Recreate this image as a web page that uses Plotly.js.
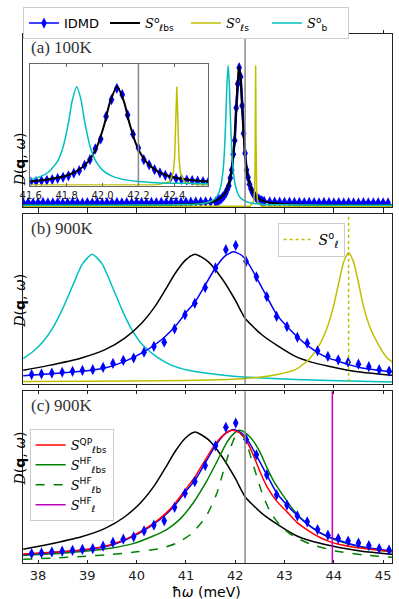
<!DOCTYPE html>
<html lang="en">
<head>
    <meta charset="UTF-8">
    <title>Phonon spectral function D(q, w)</title>
    <script src="https://cdn.plot.ly/plotly-3.0.1.min.js"></script>
    <style>
        body { margin: 0; background: #fff; }
    </style>
</head>
<body>
    <div id="myPlot" style="width:399px;height:599px;"></div>

    <script>
        // ---- panel (a) 100K : normalised spectra, peak = 1 ----
        const aCyanX = [37.7, 38.5, 39.5, 40.5, 41.0, 41.3, 41.5, 41.6, 41.65, 41.7, 41.75, 41.78, 41.81, 41.83, 41.856, 41.88, 41.9, 41.93, 41.96, 42.0, 42.05, 42.1, 42.2, 42.3, 42.45, 42.6, 43.0, 44.0, 45.2];
        const aCyanY = [0.012, 0.012, 0.013, 0.014, 0.017, 0.023, 0.039, 0.062, 0.088, 0.137, 0.248, 0.388, 0.634, 0.849, 1.0, 0.870, 0.655, 0.401, 0.255, 0.156, 0.097, 0.067, 0.041, 0.029, 0.022, 0.018, 0.015, 0.013, 0.012];

        const aBlackX = [37.7, 38.5, 39.5, 40.5, 41.0, 41.3, 41.5, 41.6, 41.7, 41.8, 41.86, 41.92, 41.97, 42.01, 42.04, 42.081, 42.12, 42.15, 42.19, 42.24, 42.3, 42.36, 42.45, 42.6, 42.8, 43.2, 44.0, 45.2];
        const aBlackY = [0.012, 0.013, 0.013, 0.015, 0.019, 0.025, 0.034, 0.044, 0.063, 0.101, 0.149, 0.242, 0.398, 0.618, 0.834, 1.0, 0.848, 0.631, 0.406, 0.246, 0.151, 0.102, 0.066, 0.040, 0.027, 0.018, 0.014, 0.013];

        const aYellowX = [37.7, 41.0, 42.0, 42.3, 42.374, 42.394, 42.402, 42.4065, 42.41, 42.414, 42.418, 42.4215, 42.426, 42.434, 42.454, 42.53, 43.0, 45.2];
        const aYellowY = [0.005, 0.005, 0.005, 0.006, 0.039, 0.128, 0.286, 0.505, 0.783, 1.0, 0.783, 0.505, 0.286, 0.128, 0.039, 0.006, 0.005, 0.005];

        const aIdmdX = [
            37.7, 37.8, 37.9, 38.0, 38.1, 38.2, 38.3, 38.4, 38.5, 38.6, 38.7, 38.8, 38.9, 39.0, 39.1, 39.2, 39.3, 39.4, 39.5, 39.6,
            39.7, 39.8, 39.9, 40.0, 40.1, 40.2, 40.3, 40.4, 40.5, 40.6, 40.7, 40.8, 40.9, 41.0, 41.1, 41.2, 41.3, 41.4, 41.5,
            41.60, 41.63, 41.66, 41.69, 41.72, 41.75, 41.78, 41.81, 41.84, 41.87, 41.90, 41.93, 41.96, 41.99, 42.02, 42.05, 42.08,
            42.11, 42.14, 42.17, 42.20, 42.23, 42.26, 42.29, 42.32, 42.35, 42.38, 42.41, 42.44, 42.47, 42.50, 42.53, 42.56, 42.59,
            42.7, 42.8, 42.9, 43.0, 43.1, 43.2, 43.3, 43.4, 43.5, 43.6, 43.7, 43.8, 43.9, 44.0, 44.1, 44.2, 44.3, 44.4, 44.5, 44.6,
            44.7, 44.8, 44.9, 45.0, 45.1
        ];
        const aIdmdY = [
            0.029, 0.031, 0.028, 0.030, 0.032, 0.029, 0.030, 0.031, 0.028, 0.030, 0.032, 0.030, 0.029, 0.031, 0.030, 0.032, 0.029, 0.031, 0.030, 0.032,
            0.030, 0.031, 0.029, 0.032, 0.031, 0.030, 0.032, 0.031, 0.033, 0.031, 0.032, 0.034, 0.033, 0.035, 0.034, 0.036, 0.035, 0.037, 0.036,
            0.036, 0.040, 0.048, 0.052, 0.060, 0.072, 0.083, 0.098, 0.125, 0.150, 0.205, 0.262, 0.372, 0.470, 0.700, 0.870, 0.985,
            0.920, 0.715, 0.520, 0.380, 0.262, 0.210, 0.160, 0.128, 0.103, 0.085, 0.072, 0.063, 0.055, 0.050, 0.044, 0.040, 0.038,
            0.036, 0.035, 0.034, 0.033, 0.034, 0.032, 0.033, 0.031, 0.032, 0.031, 0.030, 0.032, 0.031, 0.030, 0.031, 0.029, 0.031, 0.030, 0.029, 0.031,
            0.030, 0.029, 0.031, 0.030, 0.029
        ];

        // ---- panels (b) and (c) 900K ----
        const bCyanX = [37.70, 37.9, 38.1, 38.3, 38.5, 38.7, 38.9, 39.1, 39.3, 39.5, 39.7, 39.9, 40.1, 40.4, 40.7, 41.05, 41.4, 41.86, 42.54, 43.22, 43.9, 45.18];
        const bCyanY = [0.195, 0.250, 0.325, 0.432, 0.580, 0.755, 0.925, 1.0, 0.925, 0.755, 0.575, 0.420, 0.310, 0.210, 0.145, 0.105, 0.084, 0.064, 0.046, 0.034, 0.026, 0.015];

        const bBlackX = [37.70, 38.2, 38.88, 39.36, 39.76, 40.10, 40.37, 40.58, 40.78, 40.99, 41.185, 41.455, 41.73, 42.0, 42.2, 42.54, 42.88, 43.22, 43.56, 43.895, 44.23, 44.57, 45.18];
        const bBlackY = [0.105, 0.141, 0.200, 0.264, 0.353, 0.468, 0.596, 0.724, 0.851, 0.954, 1.0, 0.941, 0.813, 0.647, 0.506, 0.379, 0.289, 0.212, 0.166, 0.136, 0.110, 0.090, 0.067];

        const bYellowX = [37.70, 39.0, 40.5, 41.5, 42.2, 42.88, 43.22, 43.49, 43.69, 43.86, 43.995, 44.1, 44.2, 44.3, 44.4, 44.5, 44.6, 44.74, 44.91, 45.08, 45.18];
        const bYellowY = [0.018, 0.020, 0.025, 0.030, 0.041, 0.075, 0.110, 0.187, 0.289, 0.430, 0.600, 0.780, 0.940, 1.012, 0.940, 0.780, 0.600, 0.430, 0.300, 0.200, 0.170];

        // IDMD fit (blue line)
        const fitX = [37.70, 38.2, 38.88, 39.36, 39.76, 40.10, 40.37, 40.58, 40.78, 40.99, 41.19, 41.39, 41.59, 41.79, 41.96, 42.13, 42.27, 42.44, 42.64, 42.845, 43.05, 43.25, 43.49, 43.69, 43.895, 44.1, 44.3, 44.57, 44.91, 45.18];
        const fitY = [0.064, 0.077, 0.097, 0.123, 0.174, 0.238, 0.302, 0.366, 0.442, 0.545, 0.634, 0.762, 0.89, 0.985, 1.018, 0.992, 0.928, 0.813, 0.673, 0.532, 0.442, 0.366, 0.289, 0.238, 0.199, 0.174, 0.149, 0.123, 0.105, 0.092];

        // IDMD points at 900K
        const idmdX = [37.87, 38.07, 38.28, 38.49, 38.70, 38.90, 39.11, 39.32, 39.52, 39.73, 39.94, 40.15, 40.35, 40.56, 40.77, 40.98, 41.18, 41.39, 41.60, 41.81, 42.01, 42.22, 42.43, 42.64, 42.84, 43.05, 43.26, 43.46, 43.67, 43.88, 44.09, 44.29, 44.50, 44.71, 44.92, 45.12];
        const idmdY = [0.072, 0.077, 0.084, 0.090, 0.097, 0.104, 0.110, 0.128, 0.158, 0.182, 0.200, 0.245, 0.289, 0.322, 0.425, 0.532, 0.621, 0.743, 0.894, 1.035, 1.068, 0.945, 0.826, 0.673, 0.520, 0.442, 0.360, 0.314, 0.255, 0.212, 0.186, 0.168, 0.152, 0.133, 0.110, 0.099];

        const cRedX = [37.70, 38.2, 38.88, 39.36, 39.76, 40.10, 40.37, 40.58, 40.78, 40.99, 41.19, 41.39, 41.59, 41.79, 41.95, 42.1, 42.24, 42.37, 42.51, 42.64, 42.845, 43.05, 43.25, 43.49, 43.69, 43.9, 44.1, 44.3, 44.57, 44.91, 45.18];
        const cRedY = [0.068, 0.080, 0.100, 0.128, 0.178, 0.245, 0.310, 0.375, 0.455, 0.560, 0.660, 0.785, 0.905, 0.985, 1.012, 0.990, 0.925, 0.820, 0.690, 0.585, 0.470, 0.390, 0.310, 0.245, 0.200, 0.165, 0.143, 0.128, 0.112, 0.098, 0.088];

        const cGreenX = [37.70, 38.2, 38.9, 39.5, 39.93, 40.3, 40.61, 40.88, 41.15, 41.42, 41.625, 41.83, 41.965, 42.08, 42.2, 42.37, 42.51, 42.64, 42.78, 42.98, 43.18, 43.455, 43.725, 43.995, 44.3, 44.6, 44.9, 45.18];
        const cGreenY = [0.058, 0.068, 0.088, 0.115, 0.148, 0.200, 0.255, 0.335, 0.460, 0.625, 0.770, 0.920, 0.985, 1.012, 0.995, 0.930, 0.840, 0.730, 0.625, 0.510, 0.405, 0.300, 0.230, 0.180, 0.145, 0.120, 0.100, 0.085];

        const cDashX = [37.70, 38.3, 38.9, 39.5, 40.0, 40.47, 40.8, 41.1, 41.4, 41.625, 41.79, 41.93, 42.05, 42.17, 42.27, 42.405, 42.54, 42.71, 42.915, 43.18, 43.52, 43.86, 44.13, 44.6, 45.18];
        const cDashY = [0.028, 0.038, 0.050, 0.066, 0.085, 0.110, 0.150, 0.220, 0.350, 0.530, 0.740, 0.905, 0.995, 0.965, 0.865, 0.700, 0.540, 0.390, 0.285, 0.205, 0.145, 0.108, 0.085, 0.062, 0.043];

        // delta-like lines and the reference energy
        const sellO = 44.3;     // S_l^o (b)
        const sellHF = 43.97;   // S_l^HF (c)
        const refE = 42.2;      // grey vertical line

        const BLUE = '#0000ff', BLACK = '#000000', YEL = '#bfbf00', CYAN = '#00bfbf',
              RED = '#ff0000', GREEN = '#008000', MAG = '#bf00bf';

        const S = '<span style="font-family:DejaVu Serif"><i>S</i></span>';
        const idmdMarker = { symbol: 'diamond-tall', size: 8, color: BLUE };
        const errBar = v => ({ type: 'constant', value: v, width: 0, thickness: 1.5, color: BLUE });
        const spl = (c, w, dash) => ({ color: c, width: w, shape: 'spline', smoothing: 0.6, dash: dash || 'solid' });

        let data = [
            // top legend entries and panel (a)
            { x: [null], y: [null], xaxis: 'x', yaxis: 'y', mode: 'lines+markers', name: 'IDMD',
              line: { color: BLUE, width: 1.5 }, marker: idmdMarker },
            { x: aIdmdX, y: aIdmdY, xaxis: 'x', yaxis: 'y', mode: 'lines+markers', marker: idmdMarker,
              line: { color: BLUE, width: 2.5 }, error_y: errBar(0.014), showlegend: false },
            { x: aBlackX, y: aBlackY, xaxis: 'x', yaxis: 'y', mode: 'lines', line: spl(BLACK, 2),
              name: S + '<sup>o</sup><sub>ℓbs</sub>' },
            { x: aYellowX, y: aYellowY, xaxis: 'x', yaxis: 'y', mode: 'lines', line: { color: YEL, width: 1.5 },
              name: S + '<sup>o</sup><sub>ℓs</sub>' },
            { x: aCyanX, y: aCyanY, xaxis: 'x', yaxis: 'y', mode: 'lines', line: spl(CYAN, 1.5),
              name: S + '<sup>o</sup><sub>b</sub>' },

            // inset
            { x: aIdmdX, y: aIdmdY, xaxis: 'x4', yaxis: 'y4', mode: 'markers', marker: idmdMarker,
              error_y: errBar(0.015), showlegend: false },
            { x: aBlackX, y: aBlackY, xaxis: 'x4', yaxis: 'y4', mode: 'lines', line: spl(BLACK, 2), showlegend: false },
            { x: aYellowX, y: aYellowY, xaxis: 'x4', yaxis: 'y4', mode: 'lines', line: { color: YEL, width: 1.5 }, showlegend: false },
            { x: aCyanX, y: aCyanY, xaxis: 'x4', yaxis: 'y4', mode: 'lines', line: spl(CYAN, 1.5), showlegend: false },

            // panel (b)
            { x: bCyanX, y: bCyanY, xaxis: 'x2', yaxis: 'y2', mode: 'lines', line: spl(CYAN, 1.5), showlegend: false },
            { x: bBlackX, y: bBlackY, xaxis: 'x2', yaxis: 'y2', mode: 'lines', line: spl(BLACK, 1.5), showlegend: false },
            { x: bYellowX, y: bYellowY, xaxis: 'x2', yaxis: 'y2', mode: 'lines', line: spl(YEL, 1.5), showlegend: false },
            { x: fitX, y: fitY, xaxis: 'x2', yaxis: 'y2', mode: 'lines', line: spl(BLUE, 1.5), showlegend: false },
            { x: idmdX, y: idmdY, xaxis: 'x2', yaxis: 'y2', mode: 'markers', marker: idmdMarker,
              error_y: errBar(0.02), showlegend: false },
            { x: [sellO, sellO], y: [-1, 2], xaxis: 'x2', yaxis: 'y2', mode: 'lines',
              line: { color: YEL, width: 1.5, dash: 'dot' }, legend: 'legend2',
              name: S + '<sup>o</sup><sub>ℓ</sub>' },

            // panel (c)
            { x: bBlackX, y: bBlackY, xaxis: 'x3', yaxis: 'y3', mode: 'lines', line: spl(BLACK, 1.5), showlegend: false },
            { x: cDashX, y: cDashY, xaxis: 'x3', yaxis: 'y3', mode: 'lines', line: spl(GREEN, 1.5, 'dash'),
              legend: 'legend3', legendrank: 3, name: S + '<sup>HF</sup><sub>ℓb</sub>' },
            { x: cGreenX, y: cGreenY, xaxis: 'x3', yaxis: 'y3', mode: 'lines', line: spl(GREEN, 1.5),
              legend: 'legend3', legendrank: 2, name: S + '<sup>HF</sup><sub>ℓbs</sub>' },
            { x: fitX, y: fitY, xaxis: 'x3', yaxis: 'y3', mode: 'lines', line: spl(BLUE, 1.5), showlegend: false },
            { x: cRedX, y: cRedY, xaxis: 'x3', yaxis: 'y3', mode: 'lines', line: spl(RED, 1.5),
              legend: 'legend3', legendrank: 1, name: S + '<sup>QP</sup><sub>ℓbs</sub>' },
            { x: idmdX, y: idmdY, xaxis: 'x3', yaxis: 'y3', mode: 'markers', marker: idmdMarker,
              error_y: errBar(0.02), showlegend: false },
            { x: [sellHF, sellHF], y: [-1, 2], xaxis: 'x3', yaxis: 'y3', mode: 'lines',
              line: { color: MAG, width: 1.5 }, legend: 'legend3', legendrank: 4,
              name: S + '<sup>HF</sup><sub>ℓ</sub>' }
        ];

        const frame = { showline: true, linecolor: '#222', linewidth: 1, mirror: true, showgrid: false, zeroline: false };
        const xMain = Object.assign({}, frame, {
            range: [37.695, 45.18], tick0: 38, dtick: 1, ticks: 'outside', ticklen: 3, mirror: 'ticks',
            tickcolor: '#222', showticklabels: false, tickfont: { family: 'DejaVu Sans', size: 13, color: '#222' }
        });
        const yMain = Object.assign({}, frame, { showticklabels: false, ticks: '' });

        const yLab = '<span style="font-family:DejaVu Serif"><i>D</i></span>(<b>q</b>, <i>ω</i>)';
        const panelFont = { family: 'Liberation Serif', size: 17, color: '#333' };
        const ylabFont = { family: 'DejaVu Sans', size: 14, color: '#000' };

        let layout = {
            width: 399, height: 599,
            margin: { l: 23, r: 7, t: 31, b: 36 },
            paper_bgcolor: '#fff', plot_bgcolor: '#fff',
            font: { family: 'DejaVu Sans', size: 13, color: '#000' },
            xaxis: Object.assign({}, xMain, { anchor: 'y' }),
            yaxis: Object.assign({}, yMain, { domain: [0.673, 1], range: [0, 1.223] }),
            xaxis2: Object.assign({}, xMain, { anchor: 'y2' }),
            yaxis2: Object.assign({}, yMain, { domain: [0.3385, 0.660], range: [0, 1.311] }),
            xaxis3: Object.assign({}, xMain, { anchor: 'y3', showticklabels: true, ticks: 'inside' }),
            yaxis3: Object.assign({}, yMain, { domain: [0, 0.3248], range: [0, 1.311] }),
            xaxis4: Object.assign({}, frame, {
                anchor: 'y4', domain: [0.020, 0.5024], range: [41.598, 42.59], tick0: 41.6, dtick: 0.2,
                tickformat: '.1f', ticks: 'inside', ticklen: 3, mirror: 'ticks', linecolor: '#666', tickcolor: '#666',
                tickfont: { family: 'DejaVu Sans', size: 10, color: '#222' }
            }),
            yaxis4: Object.assign({}, frame, {
                anchor: 'x4', domain: [0.7136, 0.944], range: [0, 1.235], showticklabels: false, linecolor: '#666'
            }),
            showlegend: true,
            legend: {
                orientation: 'h', x: 0, y: 1.0508, xanchor: 'left', yanchor: 'top',
                bgcolor: '#fff', bordercolor: '#ccc', borderwidth: 1,
                font: { family: 'DejaVu Sans', size: 13 }, itemwidth: 30, entrywidth: 36
            },
            legend2: {
                x: 0.69, y: 0.643, xanchor: 'left', yanchor: 'top',
                bgcolor: '#fff', bordercolor: '#ccc', borderwidth: 1, font: { size: 14 }
            },
            legend3: {
                x: 0.018, y: 0.2533, xanchor: 'left', yanchor: 'top', traceorder: 'normal',
                bgcolor: '#fff', bordercolor: '#ccc', borderwidth: 1, font: { size: 13 }
            },
            shapes: [
                { type: 'line', xref: 'x', yref: 'y domain', x0: refE, x1: refE, y0: 0, y1: 1, line: { color: '#888', width: 1.5 } },
                { type: 'line', xref: 'x2', yref: 'y2 domain', x0: refE, x1: refE, y0: 0, y1: 1, line: { color: '#888', width: 1.5 } },
                { type: 'line', xref: 'x3', yref: 'y3 domain', x0: refE, x1: refE, y0: 0, y1: 1, line: { color: '#888', width: 1.5 } },
                { type: 'line', xref: 'x4', yref: 'y4 domain', x0: refE, x1: refE, y0: 0, y1: 1, line: { color: '#888', width: 1.5 } }
            ],
            annotations: [
                { text: '(a) 100K', xref: 'paper', yref: 'paper', x: 0.016, y: 0.974, xanchor: 'left', yanchor: 'middle', showarrow: false, font: panelFont },
                { text: '(b) 900K', xref: 'paper', yref: 'paper', x: 0.016, y: 0.6316, xanchor: 'left', yanchor: 'middle', showarrow: false, font: panelFont },
                { text: '(c) 900K', xref: 'paper', yref: 'paper', x: 0.016, y: 0.297, xanchor: 'left', yanchor: 'middle', showarrow: false, font: panelFont },
                { text: yLab, xref: 'paper', yref: 'paper', x: -0.035, y: 0.818, textangle: -90, showarrow: false, font: ylabFont },
                { text: yLab, xref: 'paper', yref: 'paper', x: -0.035, y: 0.496, textangle: -90, showarrow: false, font: ylabFont },
                { text: yLab, xref: 'paper', yref: 'paper', x: -0.035, y: 0.143, textangle: -90, showarrow: false, font: ylabFont },
                { text: 'ħ<i>ω</i> (meV)', xref: 'paper', yref: 'paper', x: 0.4986, y: -0.0545, yanchor: 'middle', showarrow: false,
                  font: { family: 'DejaVu Sans', size: 14 } }
            ]
        };

        let config = { staticPlot: true };

        Plotly.newPlot('myPlot', data, layout, config);
    </script>
</body>
</html>
